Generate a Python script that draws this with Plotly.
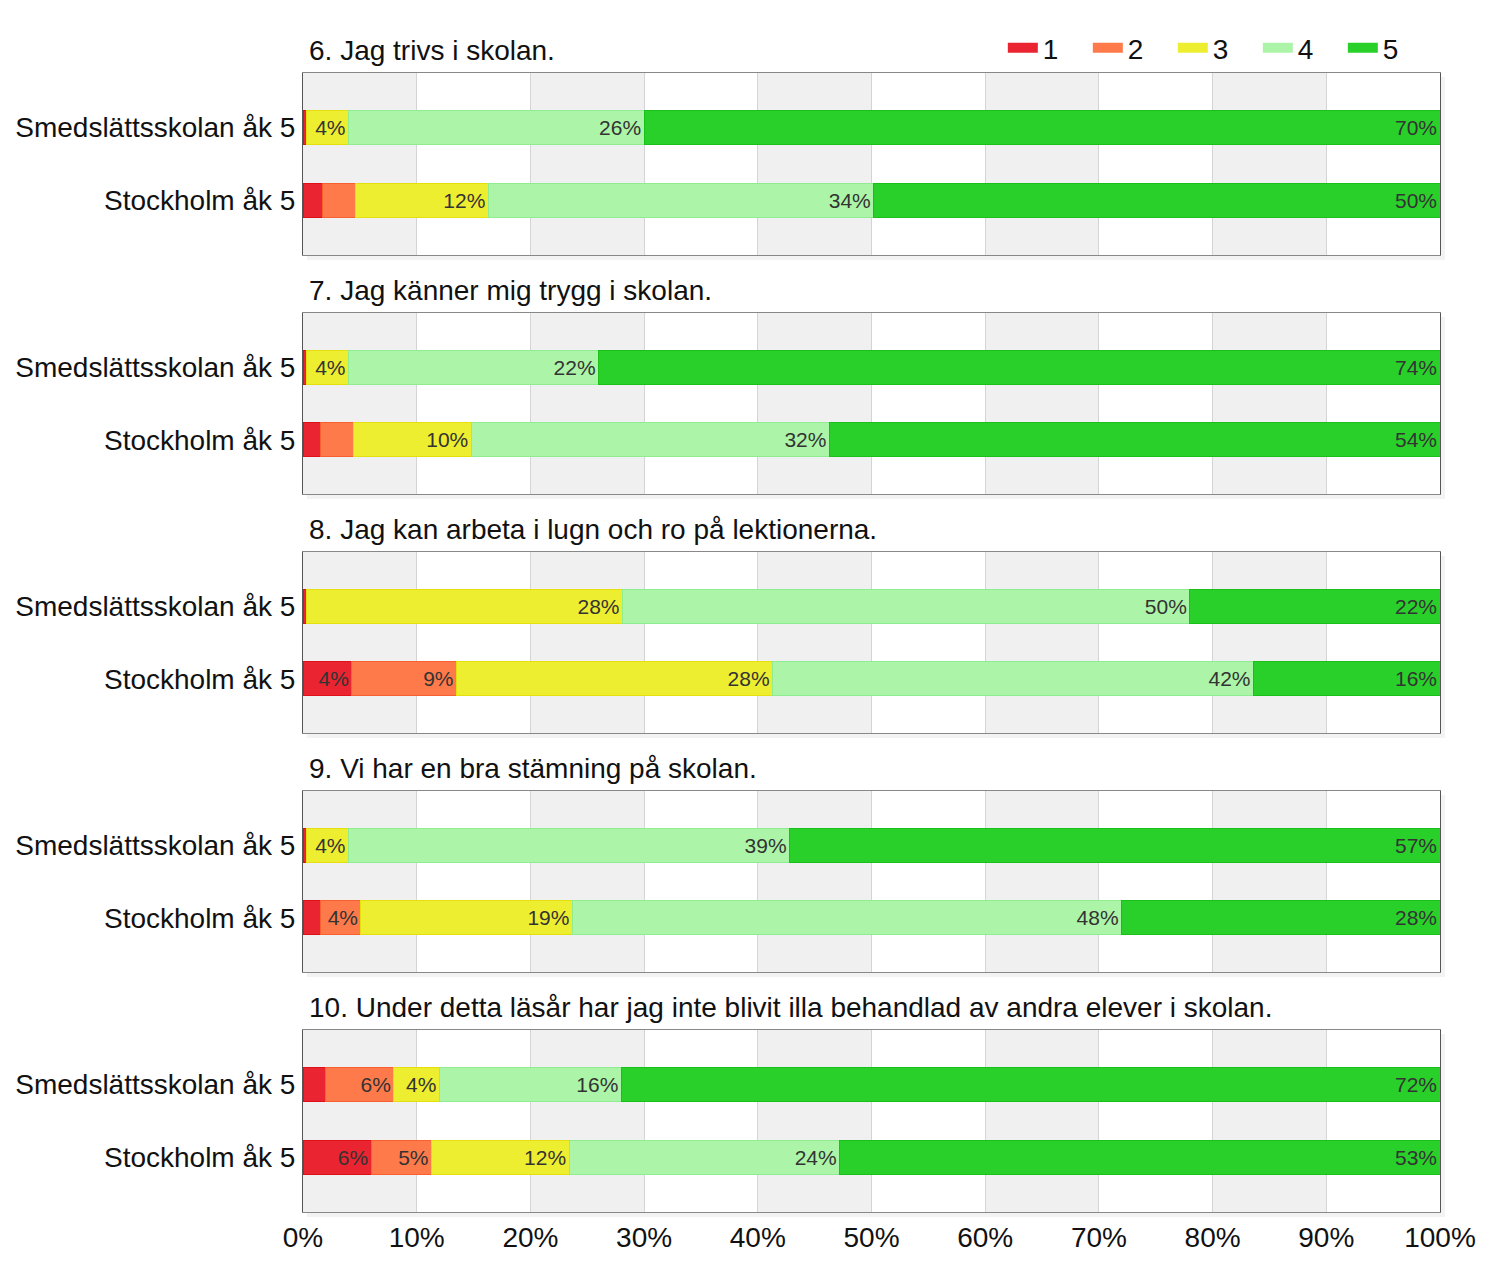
import plotly.graph_objects as go

questions = [
    "6. Jag trivs i skolan.",
    "7. Jag känner mig trygg i skolan.",
    "8. Jag kan arbeta i lugn och ro på lektionerna.",
    "9. Vi har en bra stämning på skolan.",
    "10. Under detta läsår har jag inte blivit illa behandlad av andra elever i skolan.",
]
groups = ["Smedslättsskolan åk 5", "Stockholm åk 5"]
levels = ["1", "2", "3", "4", "5"]

# percent per level 1..5, one row per question
smed = [
    [0.3, 0.0, 3.7, 26.0, 70.0],
    [0.3, 0.0, 3.7, 22.0, 74.0],
    [0.3, 0.0, 27.8, 49.9, 22.0],
    [0.3, 0.0, 3.7, 38.8, 57.2],
    [2.0, 6.0, 4.0, 16.0, 72.0],
]
sthlm = [
    [1.7, 2.9, 11.7, 33.9, 49.8],
    [1.5, 2.9, 10.4, 31.5, 53.7],
    [4.3, 9.2, 27.8, 42.3, 16.4],
    [1.5, 3.6, 18.6, 48.3, 28.0],
    [6.0, 5.3, 12.1, 23.8, 52.8],
]
xticks = [0, 10, 20, 30, 40, 50, 60, 70, 80, 90, 100]
xticktext = ["0%", "10%", "20%", "30%", "40%", "50%", "60%", "70%", "80%", "90%", "100%"]

colors = ["#EA2430", "#FF7A4A", "#EEEE30", "#ACF5A8", "#2AD02A"]
edge = ["#E01018", "#F86030", "#E4E010", "#90EC90", "#18C018"]

W, H = 1500, 1270
OFF = 8  # page body margin
ml = 303 - OFF
pw = 1137
mr = W - ml - pw
tops = [73 - OFF, 313 - OFF, 552 - OFF, 791 - OFF, 1030 - OFF]
bots = [255 - OFF, 494 - OFF, 733 - OFF, 972 - OFF, 1212 - OFF]
mt = tops[0]
mb = H - bots[-1]
ph = H - mt - mb
FONT = "Liberation Sans, Arial"


def py(p):
    return (H - mb - p) / ph


fig = go.Figure()
shapes = []
annotations = []
n = len(questions)
for qi in range(n):
    ax = "" if qi == 0 else str(qi + 1)
    xa, ya = "x" + ax, "y" + ax
    for li in range(5):
        vals = [smed[qi][li], sthlm[qi][li]]
        txt = [f"{round(v)}%" if v >= 3.5 else "" for v in vals]
        fig.add_trace(go.Bar(
            y=groups, x=vals, orientation="h", width=0.47,
            marker=dict(color=colors[li], line=dict(color=edge[li], width=1)),
            text=txt, textposition="inside", insidetextanchor="end",
            textangle=0, constraintext="none",
            textfont=dict(size=21, color="#333333", family=FONT),
            name=levels[li], showlegend=False, hoverinfo="x+y",
            xaxis=xa, yaxis=ya,
        ))
    dom = [py(bots[qi]), py(tops[qi])]
    last = qi == n - 1
    fig.layout["xaxis" + ax] = dict(
        domain=[0, 1], range=[0, 100], anchor=ya,
        tickmode="array", tickvals=xticks, ticktext=xticktext,
        showticklabels=last, automargin=False,
        showgrid=True, gridcolor="#d4d4d4", gridwidth=1,
        showline=True, linecolor="#888888", mirror=True,
        ticks="", zeroline=False,
        tickfont=dict(size=28, color="#111111"),
    )
    fig.layout["yaxis" + ax] = dict(
        domain=dom, anchor=xa, type="category",
        categoryorder="array", categoryarray=groups[::-1],
        range=[-0.75, 1.75], showgrid=False, automargin=False,
        showline=True, linecolor="#555555", mirror=True,
        ticks="", ticklabelstandoff=1,
        tickfont=dict(size=28, color="#111111"),
    )
    for b in range(0, 100, 20):
        shapes.append(dict(type="rect", xref=xa, yref=ya + " domain",
                           x0=b, x1=b + 10, y0=0, y1=1,
                           fillcolor="#f0f0f0", line=dict(width=0), layer="below"))
    hpx = bots[qi] - tops[qi]
    # soft drop shadow on the right and bottom of each panel
    shapes.append(dict(type="rect", xref="paper", yref="paper",
                       xsizemode="pixel", ysizemode="pixel", xanchor=1, yanchor=dom[0],
                       x0=0, x1=5, y0=-5, y1=hpx - 4,
                       fillcolor="#f3f3f3", line=dict(width=0), layer="below"))
    shapes.append(dict(type="rect", xref="paper", yref="paper",
                       xsizemode="pixel", ysizemode="pixel", xanchor=0, yanchor=dom[0],
                       x0=4, x1=pw + 5, y0=-5, y1=0,
                       fillcolor="#f3f3f3", line=dict(width=0), layer="below"))
    annotations.append(dict(
        text=questions[qi], xref="paper", yref="paper",
        x=0, y=dom[1], xanchor="left", yanchor="bottom",
        xshift=4, yshift=5, showarrow=False,
        font=dict(size=28, color="#111111", family=FONT),
        bgcolor="white",
    ))

for li in range(5):
    fig.add_trace(go.Scatter(
        x=[None], y=[None], mode="lines", name=levels[li],
        line=dict(color=colors[li], width=16), showlegend=True,
        xaxis="x", yaxis="y", hoverinfo="skip",
    ))

fig.update_layout(
    width=W, height=H, barmode="stack",
    margin=dict(l=ml, r=mr, t=mt, b=mb, autoexpand=False),
    paper_bgcolor="white", plot_bgcolor="white",
    font=dict(family=FONT, color="#111111"),
    shapes=shapes, annotations=annotations,
    legend=dict(orientation="h", x=0.6155, xanchor="left",
                y=py(48 - OFF), yanchor="middle", traceorder="normal",
                entrywidth=40, entrywidthmode="pixels",
                font=dict(size=28), bgcolor="rgba(0,0,0,0)",
                itemclick=False),
    showlegend=True,
)

fig.write_html("out.html")
